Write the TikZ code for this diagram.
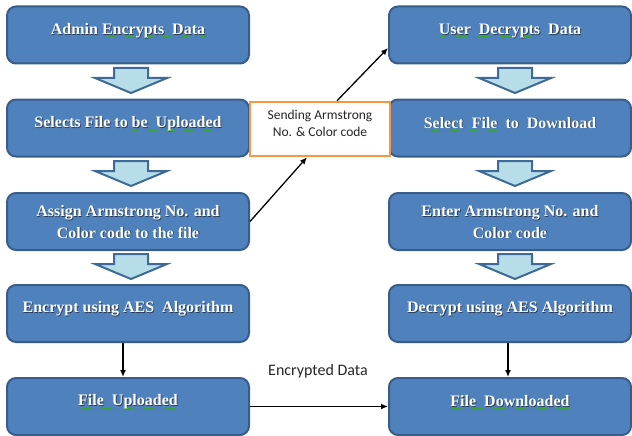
\documentclass[tikz,border=0pt]{standalone}
\usepackage{fontspec}
\setmainfont{Liberation Serif}
\newfontfamily\calib{Carlito}
\usetikzlibrary{arrows.meta}

\definecolor{boxfill}{HTML}{4F81BD}
\definecolor{boxline}{HTML}{385D8A}
\definecolor{arrfill}{HTML}{B7DEE8}
\definecolor{arrline}{HTML}{3E6A9A}
\definecolor{sendline}{HTML}{F79646}
\definecolor{txtshadow}{HTML}{2A3A50}
\definecolor{spell}{HTML}{3CA03C}

% white caption text with a soft dark drop shadow
\newif\ifshpass
\newcommand\sh[1]{\leavevmode\rlap{\shpasstrue\color{txtshadow}\hspace{0.8pt}\raisebox{-0.8pt}{#1}}#1}
% green wavy proof-reading underline under a phrase (built from small rules)
\newsavebox\wavebox
\newcommand\wavecell{\hbox{\rule{1.1pt}{0.6pt}\raisebox{0.7pt}{\rule{1.1pt}{0.6pt}}}}
\newcommand\gw[1]{\ifshpass#1\else\sbox\wavebox{#1}%
  \rlap{\color{spell}\raisebox{-3.2pt}{\hbox to \wd\wavebox{\xleaders\wavecell\hfill}}}%
  \usebox\wavebox\fi}
% line struts for the caption layout
\newcommand\bs{\rule[-4pt]{0pt}{20pt}}
\newcommand\bt{\rule[-4pt]{0pt}{28pt}}

\tikzset{
  stepbox/.style={draw=boxline, fill=boxfill, line width=2pt, rounded corners=9pt,
    minimum width=242pt, minimum height=57pt, inner sep=0pt, text=white, align=center,
    font=\fontsize{16}{20}\selectfont\bfseries},
  sendbox/.style={draw=sendline, fill=white, line width=2.5pt, minimum width=140pt,
    minimum height=54pt, inner sep=0pt, align=center, text=black!85,
    font=\calib\fontsize{13.5}{17}\selectfont},
  note/.style={font=\calib\fontsize{16}{19}\selectfont, text=black!85},
  link/.style={line width=1.3pt, -{Latex[length=7pt,width=6pt]}},
  blockarrow/.style={draw=arrline, fill=arrfill, line width=2pt, line join=miter},
  pics/downarrow/.style={code={
    \draw[blockarrow] (-17,0) -- (17,0) -- (17,10) -- (36,10) -- (0,25)
      -- (-36,10) -- (-17,10) -- cycle;}}
}

\begin{document}
\begin{tikzpicture}[x=1pt, y=-1pt]
\useasboundingbox (0,0) rectangle (632,436);

% admin side
\node[stepbox] (a1) at (128,35)    {\bt\sh{Admin \gw{Encrypts\ \ Data}}\\\bs};
\node[stepbox] (a2) at (128,128)   {\bt\sh{Selects File to \gw{be\ \ Uploaded}}\\\bs};
\node[stepbox] (a3) at (128,221.5) {\bs\sh{Assign Armstrong No. and}\\\bs\sh{Color code to the file}};
\node[stepbox] (a4) at (128,313.5) {\bt\sh{Encrypt using \gw{AES\ \ Algorithm}}\\\bs};
\node[stepbox] (a5) at (128,406.5) {\bt\sh{\gw{File\ \ Uploaded}}\\\bs};

% user side
\node[stepbox] (b1) at (510,35)    {\bt\sh{\gw{User\ \ Decrypts}\ \ Data}\\\bs};
\node[stepbox] (b2) at (510,128)   {\bt\sh{\gw{Select\ \ File}\ \ to\ \ Download}\\\bs};
\node[stepbox] (b3) at (510,221.5) {\bs\sh{Enter Armstrong No. and}\\\bs\sh{Color code}};
\node[stepbox] (b4) at (510,313.5) {\bt\sh{Decrypt using AES Algorithm}\\\bs};
\node[stepbox] (b5) at (510,406.5) {\bt\sh{\gw{File\ \ Downloaded}}\\\bs};

% block arrows between the steps
\foreach \y in {68,161,254} {
  \pic at (131,\y) {downarrow};
  \pic at (515,\y) {downarrow};
}

% key hand-over
\node[sendbox] (send) at (320,129) {Sending Armstrong\\No. \& Color code\rule[-11pt]{0pt}{1pt}};
\draw[link] (a3.east) -- ([xshift=-13pt]send.south);
\draw[link] ([xshift=17pt]send.north) -- ([yshift=-13pt]b1.west);

% upload / download
\draw[link] ([xshift=-5pt]a4.south) -- ([xshift=-5pt]a5.north);
\draw[link] ([xshift=-2pt]b4.south) -- ([xshift=-2pt]b5.north);
\draw[link] (a5.east) -- (b5.west);
\node[note] (enc) at (318,371) {Encrypted Data};
\end{tikzpicture}
\end{document}
